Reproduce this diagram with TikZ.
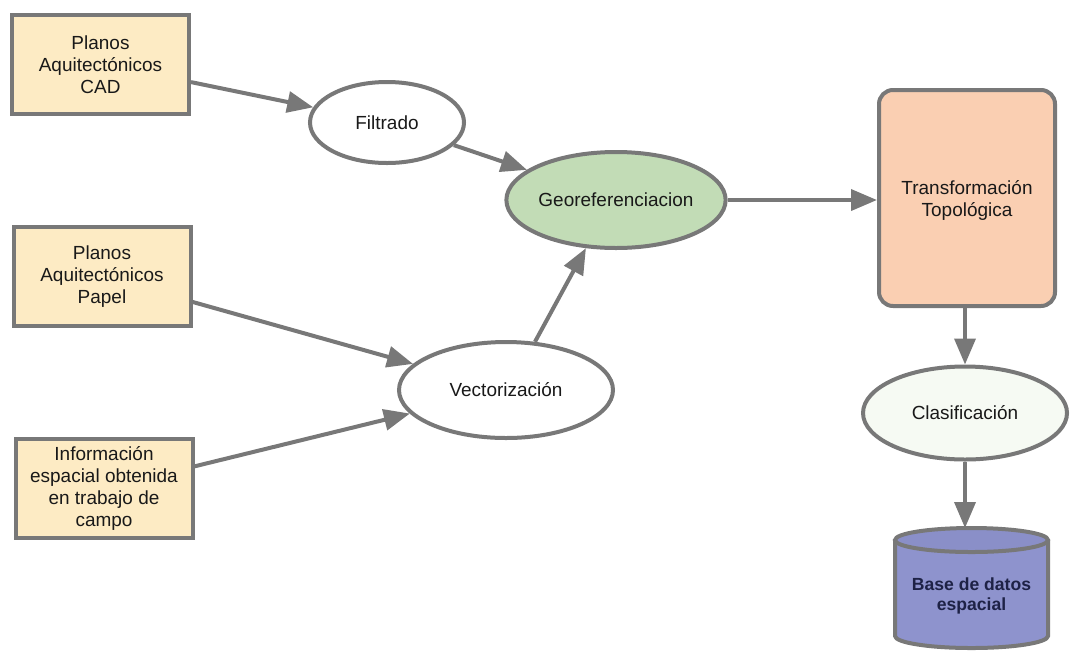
\documentclass[tikz,border=0pt]{standalone}
\usepackage{fontspec}
\setmainfont{Liberation Sans}
\usetikzlibrary{shapes.geometric,arrows.meta,backgrounds}
\newdimen\upx
\upx=0.02cm
\definecolor{edgegray}{RGB}{120,120,120}
\definecolor{sourcefill}{RGB}{253,235,196}
\definecolor{geofill}{RGB}{194,220,182}
\definecolor{transfill}{RGB}{250,207,178}
\definecolor{clasfill}{RGB}{246,250,243}
\definecolor{dbfill}{RGB}{142,147,205}
\definecolor{dbtop}{RGB}{138,143,200}
\definecolor{dbtext}{RGB}{30,34,70}
\begin{document}
\begin{tikzpicture}[x=0.02cm, y=-0.02cm,
  every node/.style={font=\fontsize{10.8}{12.5}\selectfont, text=black!90, align=center, inner sep=0pt},
  source/.style={rectangle, draw=edgegray, line width=4\upx, fill=sourcefill,
                 minimum width=177\upx, minimum height=99\upx},
  process/.style={ellipse, draw=edgegray, line width=4\upx, fill=white},
  flow/.style={draw=edgegray, line width=4\upx,
               -{Triangle[length=14.8pt, width=11.9pt]}}]
  \useasboundingbox (0,0) rectangle (1070,653);

  % input sources
  \node[source] (cad)   at (100.5,64.5)  {Planos\\Aquitectónicos\\CAD};
  \node[source] (papel) at (102,276.5)   {Planos\\Aquitectónicos\\Papel};
  \node[source] (info)  at (104,488.5)   {Información\\espacial obtenida\\en trabajo de\\campo};

  % processing steps
  \node[process, minimum width=154\upx, minimum height=81\upx] (filt) at (387,122.5) {Filtrado};
  \node[process, fill=geofill, minimum width=218\upx, minimum height=96\upx] (geo) at (616,200) {Georeferenciacion};
  \node[process, minimum width=214\upx, minimum height=96\upx] (vect) at (506,390) {Vectorización};
  \node[rectangle, rounded corners=14\upx, draw=edgegray, line width=4\upx, fill=transfill,
        minimum width=176\upx, minimum height=216\upx] (trans) at (967,198) {};
  \node at (967,200) (transtext) {Transformación\\Topológica};
  \node[process, fill=clasfill, minimum width=204\upx, minimum height=93\upx] (clas) at (965,413) {Clasificación};

  % spatial database cylinder
  \node[font=\bfseries\fontsize{10}{11.5}\selectfont, text=dbtext,
        minimum width=153\upx, minimum height=120\upx] (db) at (971.5,596) {Base de datos\\espacial};
  \begin{scope}[on background layer]
    \fill[dbfill] (895,540) -- (895,636) arc[x radius=76.5, y radius=12, start angle=180, end angle=0]
      -- (1048,540) -- cycle;
    \draw[edgegray, line width=4\upx] (895,540) -- (895,636)
      arc[x radius=76.5, y radius=12, start angle=180, end angle=0] -- (1048,540);
    \draw[edgegray, line width=4\upx, fill=dbtop] (971.5,540) ellipse[x radius=76.5, y radius=12];
  \end{scope}
  \coordinate (dbtopc) at (971.5,528);

  % connectors
  \draw[flow] (cad.-11) -- (filt);
  \draw[flow] (filt) -- (geo);
  \draw[flow] (geo.east) -- (geo.east -| trans.west);
  \draw[flow] (papel) -- (vect);
  \draw[flow] (info) -- (vect);
  \draw[flow] (vect.59) -- (geo.238);
  \draw[flow] (trans.south -| clas.north) -- (clas.north);
  \draw[flow] (clas.south) -- (clas.south |- dbtopc);
\end{tikzpicture}
\end{document}
